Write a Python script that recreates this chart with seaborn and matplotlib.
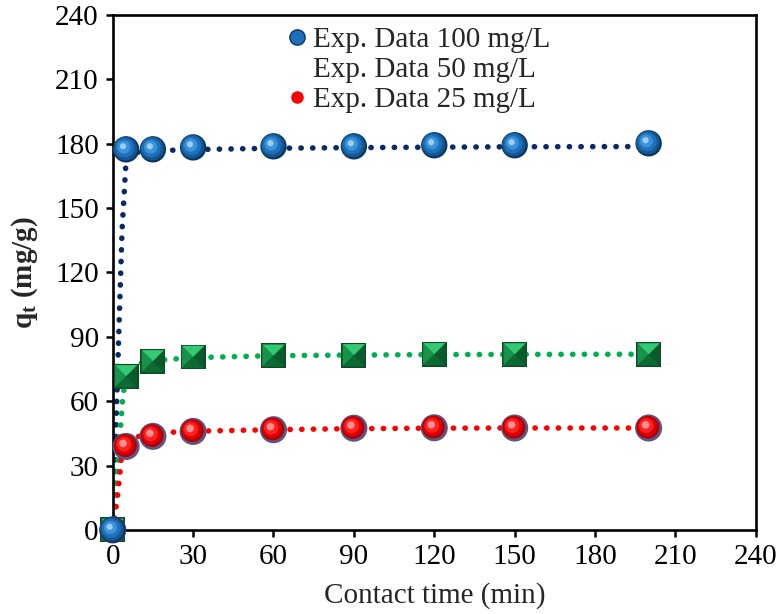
import numpy as np
import pandas as pd
import seaborn as sns
import matplotlib
matplotlib.use("Agg")
import matplotlib.pyplot as plt
from matplotlib.lines import Line2D
from matplotlib.transforms import ScaledTranslation

# Experimental kinetic data (contact time in min, uptake in mg/g)
time_exp = [0, 5, 15, 30, 60, 90, 120, 150, 200]
q_100 = [0, 177.4, 177.4, 178.3, 178.8, 178.8, 179.3, 179.3, 180.2]
q_50 = [0, 71.6, 78.6, 80.6, 81.2, 81.4, 81.9, 81.8, 81.8]
q_25 = [0, 38.9, 43.6, 45.9, 46.7, 47.4, 47.6, 47.5, 47.5]

# Model curves
t_fit_100 = [0, 1, 2.2, 3.5, 4.9, 5.5, 8, 11, 20, 30, 60, 90, 120, 150, 200]
q_fit_100 = [0, 38, 88.6, 140, 170.4, 174, 175.8, 176.3, 176.9, 177.3, 177.9, 178.2, 178.4, 178.6, 178.7]
t_fit_50 = [0, 0.8, 1.5, 2.1, 2.6, 3.1, 3.7, 4.3, 5, 7, 10.7, 20, 30, 60, 90, 120, 150, 200]
q_fit_50 = [0, 10, 21, 32, 41, 51, 60.7, 66.5, 71, 75.5, 77.8, 79.4, 80.3, 81.2, 81.5, 81.7, 81.8, 81.9]
t_fit_25 = [0, 0.85, 1.5, 2.1, 2.5, 2.9, 3.3, 4, 5, 7, 10.7, 20, 30, 60, 90, 120, 150, 200]
q_fit_25 = [0, 6, 13.2, 18.7, 24.3, 28.9, 35, 40, 42.3, 43, 43.8, 45.4, 46, 46.7, 47.2, 47.4, 47.5, 47.5]

legend_labels = ["Exp. Data 100 mg/L", "Exp. Data 50 mg/L", "Exp. Data 25 mg/L"]
ticks = [0, 30, 60, 90, 120, 150, 180, 210, 240]

sns.set_theme(style="ticks")
plt.rcParams["font.family"] = ["Liberation Serif", "DejaVu Serif"]
plt.rcParams["mathtext.fontset"] = "custom"
plt.rcParams["mathtext.rm"] = "Liberation Serif"
plt.rcParams["mathtext.bf"] = "Liberation Serif:bold"
plt.rcParams["mathtext.it"] = "Liberation Serif:italic"

fig = plt.figure(figsize=(7.8, 6.14), dpi=100)
ax = fig.add_axes([0.1445, 0.137, 0.8245, 0.8385])

for tf, qf, col in [(t_fit_100, q_fit_100, "#0a2a66"),
                    (t_fit_50, q_fit_50, "#00b050"),
                    (t_fit_25, q_fit_25, "#ff0000")]:
    sns.lineplot(x=tf, y=qf, color=col, ax=ax, estimator=None, sort=False,
                 legend=False, zorder=2)
for ln in ax.lines:
    ln.set_linewidth(4.0)
    ln.set_linestyle((0, (0.05, 2.05)))
    ln.set_dash_capstyle("round")

# marker shapes for the beveled square (pyramid faces)
SQ = [(-1, -1), (1, -1), (1, 1), (-1, 1), (-1, -1)]
TOP = [(-1, 1), (1, 1), (0, 0), (-1, 1)]
LEFT = [(-1, -1), (-1, 1), (0, 0), (-1, -1)]
RIGHT = [(1, -1), (1, 1), (0, 0), (1, -1)]
BOTTOM = [(-1, -1), (1, -1), (0, 0), (-1, -1)]


def layer(x, y, marker, size, color, z, dx=0.0, dy=0.0, lw=0, ec="none"):
    off = ScaledTranslation(dx / 72, dy / 72, fig.dpi_scale_trans)
    sns.scatterplot(x=x, y=y, marker=marker, s=size, color=color, linewidth=lw,
                    edgecolor=ec, ax=ax, legend=False, zorder=z, clip_on=False,
                    transform=ax.transData + off)


def sphere(x, y, layers, z, shift=2.2):
    n = len(layers)
    for i, (size, color) in enumerate(layers):
        f = i / (n - 1)
        layer(x, y, "o", size, color, z + i * 0.01, dx=-shift * f, dy=shift * f)


# green beveled squares
for i, (shape, col) in enumerate([(SQ, "#0a4d25"), (LEFT, "#16924a"), (BOTTOM, "#0d6a33"),
                                  (RIGHT, "#0b5a2c"), (TOP, "#33c872")]):
    layer(time_exp, q_50, shape, 320 if i == 0 else 260, col, 3 + i * 0.01)
# red spheres with a smoky rim
sphere(time_exp, q_25, [(380, "#5e5580"), (270, "#a8000c"), (200, "#dd0000"),
                        (110, "#ff2020"), (30, "#ff9090")], 4)
# blue spheres
sphere(time_exp, q_100, [(360, "#0b3566"), (290, "#14578f"), (190, "#1d70bb"),
                         (90, "#3c92d8"), (20, "#9ccdf3")], 5)

ax.set_xlim(0, 240)
ax.set_ylim(0, 240)
ax.set_xticks(ticks)
ax.set_yticks(ticks)
ax.tick_params(axis="both", direction="out", length=5, width=1.8, labelsize=21,
               colors="black", pad=5)
for sp in ax.spines.values():
    sp.set_visible(True)
    sp.set_linewidth(1.9)
    sp.set_color("black")

ax.set_xlabel("Contact time (min)", fontsize=21, labelpad=9)
ax.set_ylabel(r"$\mathbf{q_t}$ $\mathbf{(mg/g)}$", fontsize=21, labelpad=11)

handles = [
    Line2D([], [], linestyle="none", marker="o", markersize=11,
           markerfacecolor="#1f6fb8", markeredgecolor="#0b3566", markeredgewidth=1),
    Line2D([], [], linestyle="none", marker="s", markersize=0, alpha=0),
    Line2D([], [], linestyle="none", marker="o", markersize=8,
           markerfacecolor="#ff0000", markeredgecolor="#ff0000"),
]
ax.legend(handles, legend_labels, loc="upper left", bbox_to_anchor=(0.255, 1.0),
          frameon=False, fontsize=21, handlelength=0.6, handletextpad=0.25,
          labelspacing=0.12, borderaxespad=0)

fig.savefig("out.png", dpi=100)
